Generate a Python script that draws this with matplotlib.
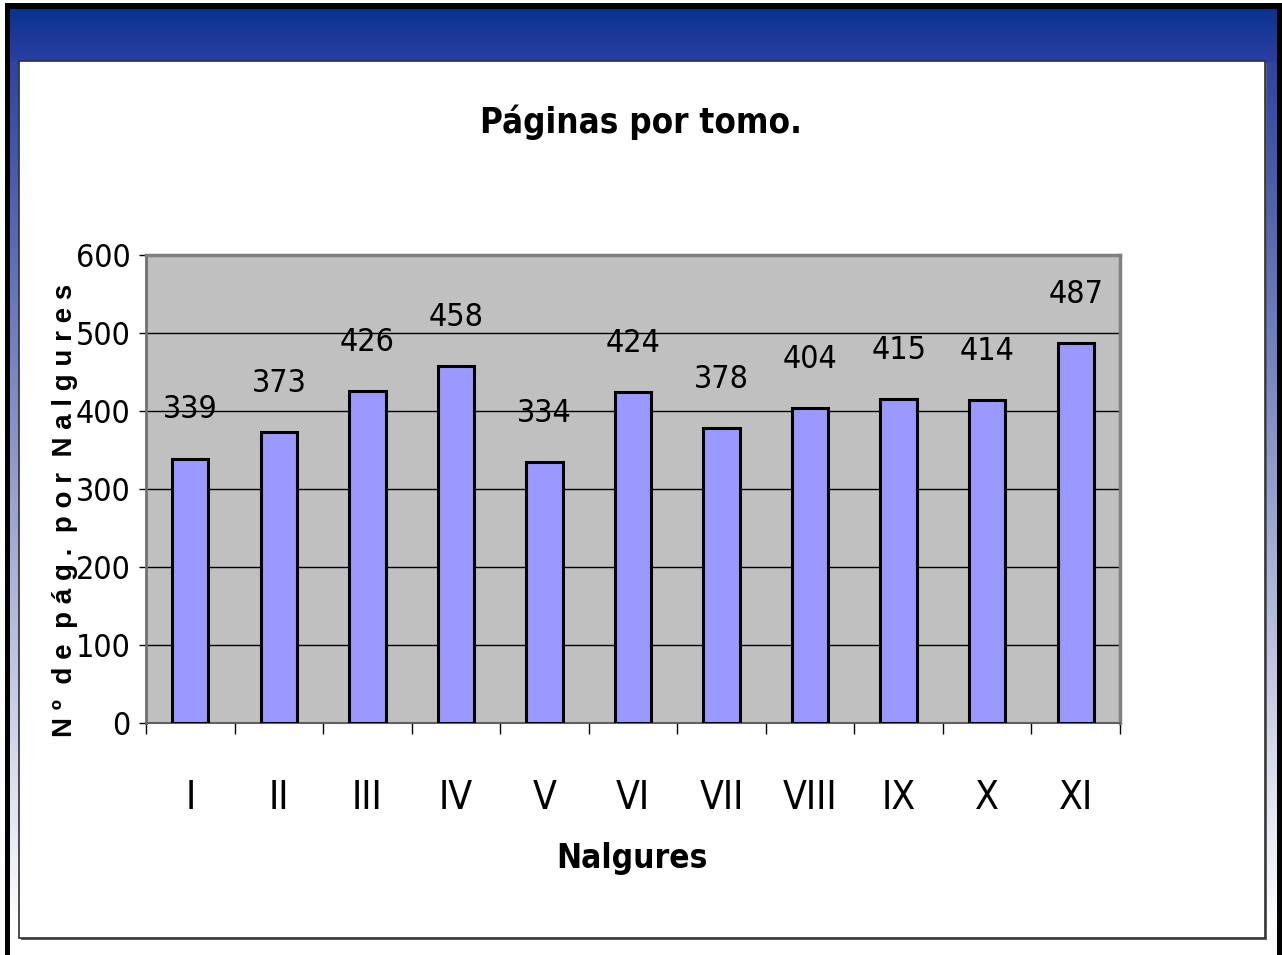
import matplotlib
matplotlib.use("Agg")
import matplotlib.pyplot as plt
import numpy as np
from matplotlib import font_manager
from matplotlib.font_manager import FontProperties
from matplotlib.patches import Rectangle

categories = ["I", "II", "III", "IV", "V", "VI", "VII", "VIII", "IX", "X", "XI"]
values = [339, 373, 426, 458, 334, 424, 378, 404, 415, 414, 487]
yticks = [0, 100, 200, 300, 400, 500, 600]
title = "Páginas por tomo."
xlabel = "Nalgures"
ylabel = "N º  d e  p á g .  p o r  N a l g u r e s"

fonts = font_manager.fontManager.ttflist


def find_narrow(bold):
    cands = []
    for f in fonts:
        nm = f.name.lower()
        st = str(f.stretch).lower()
        isnarrow = ("narrow" in nm or "condensed" in nm or "condensed" in st or "narrow" in st
                    or "condensed" in f.fname.lower() or "narrow" in f.fname.lower())
        if not isnarrow or f.style != "normal":
            continue
        w = f.weight if isinstance(f.weight, int) else (700 if "bold" in str(f.weight) else 400)
        if "semi" in f.fname.lower() or "extra" in f.fname.lower() or "ultra" in f.fname.lower():
            pri = 2
        else:
            pri = 0
        if "liberation" in nm:
            pri -= 1
        if bold and w < 600:
            continue
        if not bold and w >= 600:
            continue
        if not bold and w < 350:
            continue
        cands.append((pri, f.fname))
    cands.sort()
    if cands:
        return FontProperties(fname=cands[0][1])
    return FontProperties(family="Liberation Sans", weight="bold" if bold else "normal")


fp_reg = find_narrow(False)
fp_bold = find_narrow(True)

W, H = 1282, 955
fig = plt.figure(figsize=(W / 100, H / 100), dpi=100)
fig.patch.set_facecolor("white")

bg = fig.add_axes([0, 0, 1, 1])
bg.set_xlim(0, W)
bg.set_ylim(H, 0)
bg.axis("off")

top_c = np.array([0x2E, 0x44, 0xA0]) / 255
n = 256
t = np.linspace(0, 1, n)[:, None]
side = np.clip((1 - t) * top_c + t * np.array([1, 1, 1]), 0, 1)
side_img = np.repeat(side[:, None, :], 2, axis=1)
bg.imshow(side_img, extent=(10, 1277, 930, 62), aspect="auto", zorder=1, interpolation="bilinear")
c1 = np.array([0x0A, 0x32, 0x92]) / 255
c2 = np.array([0x2A, 0x40, 0xA0]) / 255
band = (1 - t) * c1 + t * c2
band_img = np.repeat(band[:, None, :], 2, axis=1)
bg.imshow(band_img, extent=(10, 1277, 62, 8), aspect="auto", zorder=2, interpolation="bilinear")

bg.add_patch(Rectangle((5, 3), 1275, 6, facecolor="black", edgecolor="none", zorder=3))
bg.add_patch(Rectangle((5, 3), 5, 960, facecolor="black", edgecolor="none", zorder=3))
bg.add_patch(Rectangle((1277, 3), 6, 960, facecolor="black", edgecolor="none", zorder=3))
bg.add_patch(Rectangle((21, 63), 1246, 877, facecolor="#606060", edgecolor="none", zorder=4))
bg.add_patch(Rectangle((19, 61), 1246, 877, facecolor="white", edgecolor="#303030", linewidth=1.2, zorder=5))

ax = fig.add_axes([146 / W, 1 - 723 / H, (1120 - 146) / W, (723 - 255) / H])
ax.set_facecolor("#C0C0C0")
x = np.arange(len(categories))
ax.bar(x, values, width=0.41, color="#9999FF", edgecolor="black", linewidth=2.2, zorder=3)
ax.set_xlim(-0.5, len(categories) - 0.5)
ax.set_ylim(0, 600)
ax.set_yticks(yticks)
ax.set_yticklabels([str(v) for v in yticks], fontproperties=fp_reg, fontsize=23)
ax.yaxis.grid(True, color="black", linewidth=1.0, zorder=1)
ax.set_axisbelow(True)

ax.set_xticks(x)
ax.set_xticklabels(categories, fontproperties=fp_reg, fontsize=28)
ax.set_xticks(np.arange(-0.5, len(categories)), minor=True)
ax.tick_params(axis="x", which="major", length=0, pad=40)
ax.tick_params(axis="x", which="minor", length=8, width=1, color="black", direction="out")
ax.tick_params(axis="y", length=5, width=1, pad=6, direction="out")

for s in ["top", "right"]:
    ax.spines[s].set_color("#808080")
    ax.spines[s].set_linewidth(2.5)
ax.spines["left"].set_color("#707070")
ax.spines["left"].set_linewidth(2)
ax.spines["bottom"].set_color("#606060")
ax.spines["bottom"].set_linewidth(1.5)

for xi, v in zip(x, values):
    ax.annotate(str(v), (xi, v), xytext=(0, 35), textcoords="offset points",
                ha="center", va="center", fontproperties=fp_reg, fontsize=23)

fig.text(641 / W, 1 - 122 / H, title, ha="center", va="center",
         fontproperties=fp_bold, fontsize=25)
fig.text(632 / W, 1 - 858 / H, xlabel, ha="center", va="center",
         fontproperties=fp_bold, fontsize=24)
fig.text(65 / W, 1 - 510 / H, ylabel, ha="center", va="center", fontsize=20,
         fontweight="bold", family="Liberation Sans", rotation=90)

fig.savefig("out.png", dpi=100)
